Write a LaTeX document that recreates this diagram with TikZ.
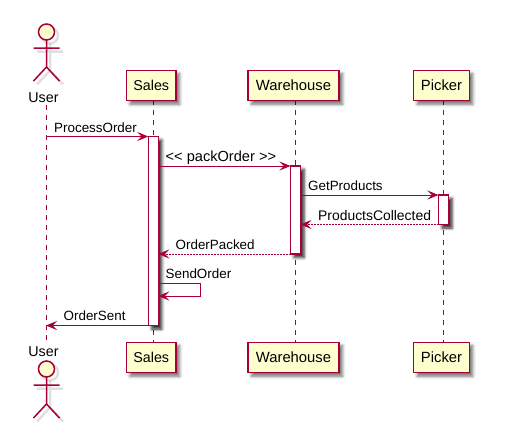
\documentclass[tikz,border=0pt]{standalone}
\usepackage{fontspec}
\setmainfont{Liberation Sans}
\usetikzlibrary{arrows.meta}
\usetikzlibrary{shadows.blur}
\definecolor{uml-red}{HTML}{A80036}
\definecolor{uml-yellow}{HTML}{FEFECE}
\tikzset{
  partbox/.style={draw=uml-red, fill=uml-yellow, line width=1.4pt, inner sep=0pt, outer sep=0pt,
    minimum width=#1, minimum height=30.5pt, font=\fontsize{14.3}{17}\selectfont,
    blur shadow={shadow xshift=3.5pt, shadow yshift=-3.5pt, shadow blur radius=3pt, shadow opacity=55}},
  actbar/.style={draw=uml-red, fill=white, line width=1.1pt, inner sep=0pt, outer sep=0pt,
    minimum width=10pt, minimum height=#1,
    blur shadow={shadow xshift=3.5pt, shadow yshift=-3.5pt, shadow blur radius=3pt, shadow opacity=85}},
  lifeline/.style={uml-red, line width=1pt, dash pattern=on 5pt off 5pt},
  msg/.style={uml-red, line width=1pt, -{Stealth[length=11pt, width=9pt, inset=4.5pt]}},
  reply/.style={msg, dash pattern=on 1.5pt off 1.5pt},
  msglabel/.style={anchor=base west, inner sep=0pt, font=\fontsize{13.4}{16}\selectfont},
  actlabel/.style={anchor=base, inner sep=0pt, font=\fontsize{14.3}{17}\selectfont},
  actorfig/.pic={
    \begin{scope}[shift={(3.5,3.5)}, black, opacity=0.12, line width=2.5pt]
      \draw (0,0) circle (8);
      \draw (0,8) -- (0,35) (-13,16) -- (13,16) (-13,49) -- (0,35) -- (13,49);
    \end{scope}
    \draw[uml-red, line width=1.5pt, fill=uml-yellow] (0,0) circle (8);
    \draw[uml-red, line width=1.5pt] (0,8) -- (0,35) (-13,16) -- (13,16) (-13,49) -- (0,35) -- (13,49);
  }
}
\begin{document}
\begin{tikzpicture}[x=1pt, y=-1pt]
\useasboundingbox (0,0) rectangle (506,447);
% lifelines
\coordinate (usertop) at (46,105);
\coordinate (userbot) at (46,341);
\coordinate (salestop) at (153,100);
\coordinate (salesbot) at (153,342);
\coordinate (housetop) at (295.5,100);
\coordinate (housebot) at (295.5,342);
\coordinate (pickertop) at (443,100);
\coordinate (pickerbot) at (443,342);
\draw[lifeline] (usertop) -- (userbot);
\draw[lifeline] (salestop) -- (salesbot);
\draw[lifeline] (housetop) -- (housebot);
\draw[lifeline] (pickertop) -- (pickerbot);
% participants
\pic at (46.5,32) {actorfig};
\node[actlabel] (usera) at (43.5,102) {User};
\node[partbox=49.5pt] (salesa) at (151.25,85.5) {Sales};
\node[partbox=91pt, font=\fontsize{14.8}{17}\selectfont] (housea) at (293.5,85.5) {Warehouse};
\node[partbox=55.5pt, font=\fontsize{14.8}{17}\selectfont] (pickera) at (441.5,85.5) {Picker};
\node[actlabel] (userb) at (43.5,356) {User};
\pic at (46.5,369) {actorfig};
\node[partbox=49.5pt] (salesb) at (151.25,357.5) {Sales};
\node[partbox=91pt, font=\fontsize{14.8}{17}\selectfont] (houseb) at (293.5,357.5) {Warehouse};
\node[partbox=55.5pt, font=\fontsize{14.8}{17}\selectfont] (pickerb) at (441.5,357.5) {Picker};
% activations
\node[actbar=189pt] (salesbar) at (153.25,231) {};
\node[actbar=88pt] (housebar) at (295.5,210) {};
\node[actbar=29.5pt] (pickerbar) at (443.5,209.75) {};
% messages
\draw[msg] (usertop |- salesbar.north) -- (salesbar.north west);
\node[msglabel] (lblprocess) at (54,132) {ProcessOrder};
\draw[msg] (salesbar.east |- housebar.north) -- (housebar.north west);
\node[msglabel, font=\fontsize{14.6}{17}\selectfont] (lblpack) at (165.5,161.5) {<{}< packOrder >{}>};
\draw[msg] (housebar.east |- pickerbar.north) -- (pickerbar.north west);
\node[msglabel] (lblget) at (308,190.7) {GetProducts};
\draw[reply] (pickerbar.south west) -- (housebar.east |- pickerbar.south);
\node[msglabel, font=\fontsize{13.9}{16}\selectfont] (lblcollected) at (318,220) {ProductsCollected};
\draw[reply] (housebar.south west) -- (salesbar.east |- housebar.south);
\node[msglabel] (lblpacked) at (175.5,249) {OrderPacked};
\coordinate (selfa) at (158.25,283);
\coordinate (selfb) at (158.25,296);
\draw[msg] (selfa) -| (200.5,296) -- (selfb);
\node[msglabel] (lblsend) at (165.5,278.7) {SendOrder};
\draw[msg] (salesbar.south west) -- (userbot |- salesbar.south);
\node[msglabel] (lblsent) at (63.5,320.7) {OrderSent};
\end{tikzpicture}
\end{document}
